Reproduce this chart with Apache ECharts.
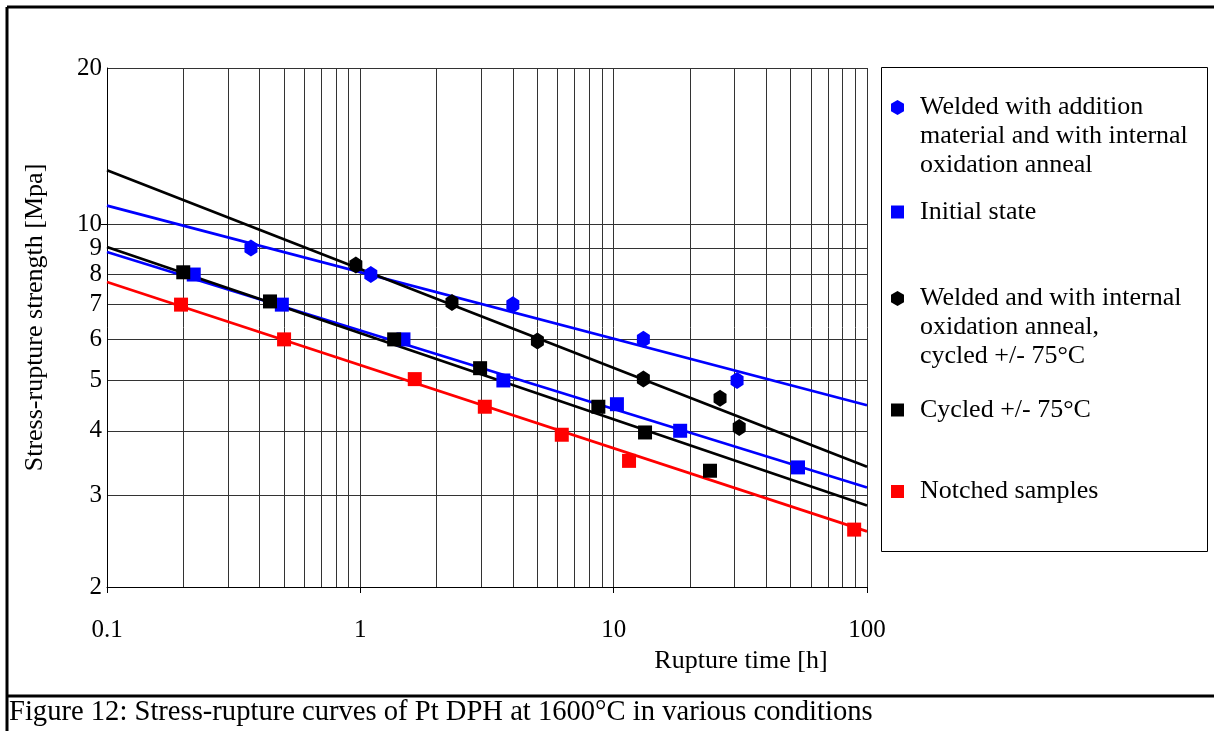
<!DOCTYPE html>
<html>
<head>
<meta charset="utf-8">
<title>Stress-rupture curves of Pt DPH</title>
<script src="https://cdn.jsdelivr.net/npm/echarts@6.0.0/dist/echarts.min.js"></script>
<style>
  html, body { margin: 0; padding: 0; background: #fff; }
  #main { width: 1214px; height: 731px; }
</style>
</head>
<body>
<div id="main"></div>
<script>
// axis ticks (log scales)
var xGridValues = [0.1, 0.2, 0.3, 0.4, 0.5, 0.6, 0.7, 0.8, 0.9,
                   1, 2, 3, 4, 5, 6, 7, 8, 9,
                   10, 20, 30, 40, 50, 60, 70, 80, 90, 100];
var xLabelValues = [0.1, 1, 10, 100];
var yGridValues = [2, 3, 4, 5, 6, 7, 8, 9, 10, 20];
var yMajorTicks = [10];

// legend names (the two blank lines in front keep the marker on the first text line)
var names = [
  '\n\nWelded with addition\nmaterial and with internal\noxidation anneal',
  'Initial state',
  '\n\nWelded and with internal\noxidation anneal,\ncycled +/- 75°C',
  'Cycled +/- 75°C',
  'Notched samples'
];

// measured points: rupture time [h] and stress [MPa]
var weldAddX = [0.37, 1.1, 4.0, 13.1, 30.7];
var weldAddY = [9.0, 8.0, 7.0, 6.0, 5.0];

var initialX = [0.22, 0.49, 1.48, 3.67, 10.3, 18.3, 53.4];
var initialY = [8.0, 7.0, 6.0, 5.0, 4.5, 4.0, 3.4];

var weldCycX = [0.96, 2.3, 5.0, 13.1, 26.3, 31.3];
var weldCycY = [8.35, 7.07, 5.96, 5.03, 4.62, 4.06];

var cycledX = [0.2, 0.44, 1.36, 2.97, 8.7, 13.3, 24.0];
var cycledY = [8.08, 7.1, 6.0, 5.28, 4.45, 3.97, 3.35];

var notchedX = [0.196, 0.5, 1.64, 3.1, 6.24, 11.5, 89];
var notchedY = [7.0, 6.0, 5.03, 4.45, 3.93, 3.5, 2.58];

// trend lines, read at both ends of the time axis
var fitX = [0.1, 100];
var fitWeldAdd = [10.86, 4.48];
var fitInitial = [8.84, 3.11];
var fitWeldCyc = [12.7, 3.41];
var fitCycled = [9.04, 2.87];
var fitNotched = [7.74, 2.56];

var hexagon = 'path://M0,-10L8.66,-5L8.66,5L0,10L-8.66,5L-8.66,-5Z';
var serif = 'Liberation Serif';

function pairs(xs, ys) {
  return xs.map(function (x, i) { return [x, ys[i]]; });
}

function points(name, xs, ys, symbol, color) {
  return {
    name: name,
    type: 'scatter',
    data: pairs(xs, ys),
    symbol: symbol,
    symbolSize: symbol === 'rect' ? 14 : [15, 17],
    symbolKeepAspect: true,
    itemStyle: { color: color, opacity: 1 },
    z: 4
  };
}

function trend(xs, ys, color) {
  return {
    type: 'line',
    data: pairs(xs, ys),
    symbol: 'none',
    silent: true,
    lineStyle: { width: 2.7, color: color },
    z: 3
  };
}

// one legend per entry, so the gaps can follow the original
function legendItem(name, icon, centerY, lines) {
  var boxH = lines * 29;
  var iconH = icon === 'rect' ? 13 : 15;
  return {
    data: [{ name: name, icon: icon }],
    left: 891,
    top: centerY - boxH / 2,
    padding: 0,
    itemWidth: 13,
    itemHeight: iconH,
    selectedMode: false,
    textStyle: {
      fontFamily: serif,
      fontSize: 26,
      lineHeight: 29,
      color: '#000',
      padding: [0, 0, 0, 11]
    }
  };
}

var gridColor = '#333';
var chart = echarts.init(document.getElementById('main'));

chart.setOption({
  animation: false,
  backgroundColor: '#fff',
  title: {
    text: 'Figure 12: Stress-rupture curves of Pt DPH at 1600°C in various conditions',
    left: 9,
    top: 698,
    padding: 0,
    textStyle: { fontFamily: serif, fontSize: 28.6, fontWeight: 'normal', color: '#000' }
  },
  grid: {
    left: 107,
    top: 68,
    right: 347,
    bottom: 144,
    outerBoundsMode: 'none'
  },
  legend: [
    legendItem(names[0], hexagon, 107.5, 5),
    legendItem(names[1], 'rect', 212, 1),
    legendItem(names[2], hexagon, 298.5, 5),
    legendItem(names[3], 'rect', 410, 1),
    legendItem(names[4], 'rect', 491.5, 1)
  ],
  xAxis: [{
    type: 'log',
    logBase: 10,
    min: 0.1,
    max: 100,
    name: 'Rupture time [h]',
    nameLocation: 'middle',
    nameGap: 45,
    nameTextStyle: { fontFamily: serif, fontSize: 26, color: '#000', padding: [0, 0, 0, 508] },
    axisLine: { show: true, lineStyle: { color: '#000', width: 1 } },
    axisTick: { show: false, customValues: xGridValues },
    axisLabel: {
      customValues: xLabelValues,
      margin: 31,
      fontFamily: serif,
      fontSize: 25,
      color: '#000',
      formatter: function (v) { return String(v); }
    },
    splitLine: { show: true, lineStyle: { color: gridColor, width: 1 } }
  }, {
    // second bottom axis only for the short decade ticks
    type: 'log',
    logBase: 10,
    min: 0.1,
    max: 100,
    position: 'bottom',
    axisLine: { show: false },
    axisTick: { show: true, customValues: xLabelValues, length: 6, lineStyle: { color: '#000' } },
    axisLabel: { show: false },
    splitLine: { show: false }
  }],
  yAxis: [{
    type: 'log',
    logBase: 10,
    min: 2,
    max: 20,
    name: 'Stress-rupture strength [Mpa]',
    nameLocation: 'middle',
    nameGap: 59,
    nameTextStyle: { fontFamily: serif, fontSize: 26, color: '#000', padding: [0, 0, 0, 20] },
    axisLine: { show: true, lineStyle: { color: '#000', width: 1 } },
    axisTick: { show: false, customValues: yGridValues },
    axisLabel: {
      customValues: yGridValues,
      margin: 5,
      fontFamily: serif,
      fontSize: 25,
      color: '#000',
      formatter: function (v) { return String(v); }
    },
    splitLine: { show: true, lineStyle: { color: gridColor, width: 1 } }
  }, {
    type: 'log',
    logBase: 10,
    min: 2,
    max: 20,
    position: 'left',
    axisLine: { show: false },
    axisTick: { show: true, customValues: yMajorTicks, length: 6, lineStyle: { color: '#000' } },
    axisLabel: { show: false },
    splitLine: { show: false }
  }],
  graphic: [
    // outer frame and caption rule
    { type: 'line', shape: { x1: 7, y1: 7, x2: 1214, y2: 7 }, style: { stroke: '#000', lineWidth: 3 } },
    { type: 'line', shape: { x1: 7, y1: 7, x2: 7, y2: 731 }, style: { stroke: '#000', lineWidth: 3 } },
    { type: 'line', shape: { x1: 7, y1: 696, x2: 1214, y2: 696 }, style: { stroke: '#000', lineWidth: 3 } },
    // legend box
    { type: 'rect', shape: { x: 881.5, y: 67.5, width: 326, height: 484 }, style: { fill: null, stroke: '#000', lineWidth: 1 } }
  ],
  series: [
    trend(fitX, fitWeldAdd, '#0000ff'),
    trend(fitX, fitInitial, '#0000ff'),
    trend(fitX, fitWeldCyc, '#000000'),
    trend(fitX, fitCycled, '#000000'),
    trend(fitX, fitNotched, '#ff0000'),
    points(names[0], weldAddX, weldAddY, hexagon, '#0000ff'),
    points(names[1], initialX, initialY, 'rect', '#0000ff'),
    points(names[2], weldCycX, weldCycY, hexagon, '#000000'),
    points(names[3], cycledX, cycledY, 'rect', '#000000'),
    points(names[4], notchedX, notchedY, 'rect', '#ff0000')
  ]
});
</script>
</body>
</html>
